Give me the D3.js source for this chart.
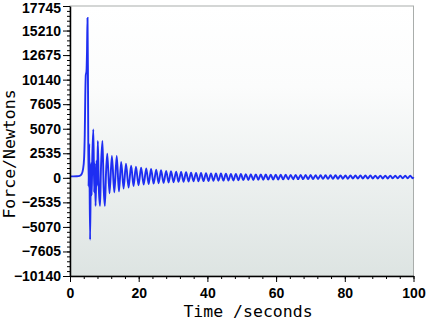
<!DOCTYPE html>
<html>
<head>
<meta charset="utf-8">
<script src="https://cdn.jsdelivr.net/npm/d3@7"></script>
<style>
  body { margin: 0; background: #fff; }
  .tick text { font-family: "Liberation Sans", Arial, sans-serif; font-weight: bold; font-size: 14px; }
  .title { font-family: "DejaVu Sans Mono", "Liberation Mono", monospace; font-size: 16.5px; }
</style>
</head>
<body>
<svg id="vis" width="426" height="321"></svg>
<script>
var timeS = [0, 1, 2, 2.8, 3.4, 3.8, 4.1, 4.3, 4.45, 4.6, 4.8, 4.95, 5.1, 5.25, 5.4, 5.6, 5.85,
  6.1, 6.3, 6.5, 6.8, 7.05, 7.2, 7.45, 7.75, 7.9, 8.1, 8.4, 8.75, 9.0, 9.45, 9.8, 10.15, 10.5, 10.85,
  11.5, 12.2, 12.9, 13.6, 14.25, 14.9, 15.6, 16.3, 17.05, 17.8, 18.5, 19.2, 19.95, 20.7, 21.45,
  22.2, 22.9, 23.6, 24.35, 25.1, 25.8, 26.5, 27.25, 28.0, 28.7, 29.4, 30.15, 30.9, 31.6, 32.35,
  33.05, 33.8, 34.5, 35.25, 35.95, 36.7, 37.4, 38.15, 38.85, 39.6, 40.3, 41.05, 41.75, 42.5, 43.2,
  43.95, 44.65, 45.4, 46.1, 46.85, 47.55, 48.3, 49.0, 49.75, 50.45, 51.2, 51.9, 52.65, 53.35, 54.1,
  54.8, 55.55, 56.25, 57.0, 57.7, 58.45, 59.15, 59.9, 60.6, 61.35, 62.05, 62.8, 63.5, 64.25, 64.95,
  65.7, 66.4, 67.15, 67.85, 68.6, 69.3, 70.05, 70.75, 71.5, 72.2, 72.95, 73.65, 74.4, 75.1, 75.85,
  76.55, 77.3, 78.0, 78.75, 79.45, 80.2, 80.9, 81.65, 82.35, 83.1, 83.8, 84.55, 85.25, 86.0, 86.7,
  87.45, 88.15, 88.9, 89.6, 90.35, 91.05, 91.8, 92.5, 93.25, 93.95, 94.7, 95.4, 96.15, 96.85, 97.6,
  98.3, 99.05, 99.75, 100];
var forceN = [150, 150, 160, 200, 400, 900, 2000, 4500, 8500, 10600, 11000, 13000, 16500, 9000, -900, 3500, -6400,
  1500, -1800, 2200, 5000, -1500, 1500, -2900, 1800, -800, 3800, -1200, -2900, 800, 3800, -1000, -2900, 600, 2500,
  -1600, 2250, -1500, 2250, -1400, 1650, -1100, 1450, -1000, 1250, -850, 1150, -760, 1050, -700,
  980, -640, 920, -600, 850, -560, 780, -520, 720, -480, 680, -450, 640, -420, 600,
  -400, 570, -380, 540, -360, 510, -350, 490, -340, 470, -330, 460, -310, 450, -300,
  440, -290, 425, -280, 410, -270, 400, -250, 390, -240, 380, -230, 370, -220, 360,
  -210, 350, -200, 340, -190, 330, -180, 320, -170, 315, -160, 310, -150, 305, -145,
  300, -140, 295, -135, 290, -130, 285, -120, 280, -115, 275, -110, 270, -105, 265,
  -100, 260, -95, 255, -90, 250, -90, 245, -85, 240, -80, 240, -80, 235, -75,
  235, -70, 230, -70, 230, -65, 225, -65, 225, -60, 220, -60, 220, -55, 215,
  -55, 210, -50, 80];

var xTicks = [0, 20, 40, 60, 80, 100];
var yTicks = [-10140, -7605, -5070, -2535, 0, 2535, 5070, 7605, 10140, 12675, 15210, 17745];

var svg = d3.select("#vis");

var x = d3.scaleLinear().domain([0, 100]).range([70, 413.5]);
var y = d3.scaleLinear().domain([-10140, 17745]).range([276, 6]);

// plot background gradient
var grad = svg.append("defs").append("linearGradient")
    .attr("id", "bg").attr("x1", 0).attr("y1", 0).attr("x2", 0).attr("y2", 1);
grad.append("stop").attr("offset", "0%").attr("stop-color", "#ffffff");
grad.append("stop").attr("offset", "30%").attr("stop-color", "#fbfcfc");
grad.append("stop").attr("offset", "100%").attr("stop-color", "#dde4e2");

svg.append("rect")
    .attr("x", x(0)).attr("y", y(17745))
    .attr("width", x(100) - x(0)).attr("height", y(-10140) - y(17745))
    .attr("fill", "url(#bg)")
    .attr("stroke", "#a9adab");

// the force trace
var line = d3.line()
    .x(function(d, i) { return x(timeS[i]); })
    .y(function(d) { return y(d); })
    .curve(d3.curveMonotoneX);

svg.append("path")
    .datum(forceN)
    .attr("fill", "none")
    .attr("stroke", "#1e2ef2")
    .attr("stroke-width", 1.9)
    .attr("d", line);

// minor ticks
var minorX = d3.range(0, 101, 4);
var minorY = d3.range(-10140, 17746, 507);

svg.append("g")
    .attr("transform", "translate(0," + y(-10140) + ")")
    .call(d3.axisBottom(x).tickValues(minorX).tickSize(3).tickFormat(""))
    .call(function(g) { g.select(".domain").remove(); });

svg.append("g")
    .attr("transform", "translate(" + x(0) + ",0)")
    .call(d3.axisLeft(y).tickValues(minorY).tickSize(3).tickFormat(""))
    .call(function(g) { g.select(".domain").remove(); });

// major axes
svg.append("g")
    .attr("transform", "translate(0," + y(-10140) + ")")
    .call(d3.axisBottom(x).tickValues(xTicks).tickSize(6).tickPadding(6).tickSizeOuter(0).tickFormat(d3.format("d")))
    .call(function(g) { g.select(".domain").attr("stroke-width", 1.5); });

svg.append("g")
    .attr("transform", "translate(" + x(0) + ",0)")
    .call(d3.axisLeft(y).tickValues(yTicks).tickSize(7).tickPadding(2).tickSizeOuter(0).tickFormat(d3.format("d")))
    .call(function(g) { g.select(".domain").attr("stroke-width", 1.5); })
    .call(function(g) {
      // keep the top label inside the window
      g.selectAll(".tick text").filter(function(d) { return d === 17745; }).attr("dy", "0.45em");
    });

svg.selectAll(".tick text").attr("fill", "#000");

// axis titles
svg.append("text")
    .attr("class", "title")
    .attr("x", 248).attr("y", 317)
    .attr("text-anchor", "middle")
    .text("Time /seconds");

svg.append("text")
    .attr("class", "title")
    .attr("transform", "translate(15,154) rotate(-90)")
    .attr("text-anchor", "middle")
    .text("Force/Newtons");
</script>
</body>
</html>
